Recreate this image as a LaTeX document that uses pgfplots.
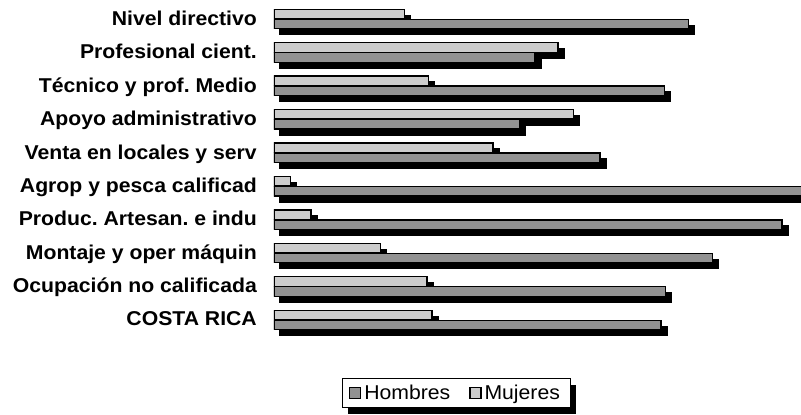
\documentclass[border=0pt]{standalone}
\usepackage{fontspec}
\setmainfont{Liberation Sans}[FakeStretch=1.06]
\usepackage{pgfplots}
\pgfplotsset{compat=1.18}
\usepackage{pgfplotstable}
\usetikzlibrary{shadows}
\definecolor{hombres}{RGB}{146,146,146}
\definecolor{mujeres}{RGB}{204,204,204}
\frenchspacing

% share of each occupation group, percent (women + men = 100)
\pgfplotstableread{
pos mujeres hombres
10 24.0 76.0
9  52.1 47.9
8  28.3 71.7
7  54.9 45.1
6  40.2 59.8
5  3.0  97.0
4  6.8  93.2
3  19.6 80.4
2  28.1 71.9
1  29.0 71.0
}\datatable

\tikzset{barshadow/.style={drop shadow={shadow xshift=6pt, shadow yshift=-6pt, fill=black, opacity=1}}}
% legend swatch drawn at pgf level so no shadow reaches it
\newcommand\swatch[1]{\pgfsetfillcolor{#1}\pgfsetstrokecolor{black}\pgfsetlinewidth{1.2pt}%
  \pgfpathrectanglecorners{\pgfpoint{0pt}{-5.5pt}}{\pgfpoint{11pt}{5.5pt}}\pgfusepath{fill,stroke}}

\begin{document}
\begin{tikzpicture}
\useasboundingbox (0,0) rectangle (801pt,415pt);
\begin{axis}[
  at={(274pt,412.7pt)}, anchor=north west,
  scale only axis, width=527pt, height=334.4pt,
  xmin=0, xmax=96.7, ymin=0.5, ymax=10.5,
  axis line style={draw=none},
  major tick length=0pt,
  xtick=\empty,
  ytick={1,...,10},
  yticklabels={COSTA RICA, Ocupación no calificada, Montaje y oper máquin, Produc. Artesan. e indu, Agrop y pesca calificad, Venta en locales y serv, Apoyo administrativo, Técnico y prof. Medio, Profesional cient., Nivel directivo},
  yticklabel style={font=\bfseries\fontsize{20}{20}\selectfont, inner sep=0pt, xshift=-17pt, text depth=0pt, yshift=1pt},
  legend columns=2,
  legend style={at={(0.3454,-0.1684)}, anchor=center, draw=black, line width=0.8pt,
    inner xsep=7pt, inner ysep=4.5pt,
    nodes={inner xsep=3pt, inner ysep=2pt},
    font=\fontsize{20}{20}\selectfont, barshadow,
    /tikz/every even column/.style={column sep=16pt}},
]
\addplot[xbar, bar width=9.5pt, bar shift=5pt, fill=mujeres, draw=black, line width=1.3pt, barshadow, forget plot]
  table[x=mujeres, y=pos] {\datatable};
\addplot[xbar, bar width=9.5pt, bar shift=-5pt, fill=hombres, draw=black, line width=1.3pt, barshadow, forget plot]
  table[x=hombres, y=pos] {\datatable};
\addlegendimage{legend image code/.code={\swatch{hombres}}}
\addlegendentry{Hombres}
\addlegendimage{legend image code/.code={\swatch{mujeres}}}
\addlegendentry{Mujeres}
\end{axis}
\end{tikzpicture}
\end{document}
